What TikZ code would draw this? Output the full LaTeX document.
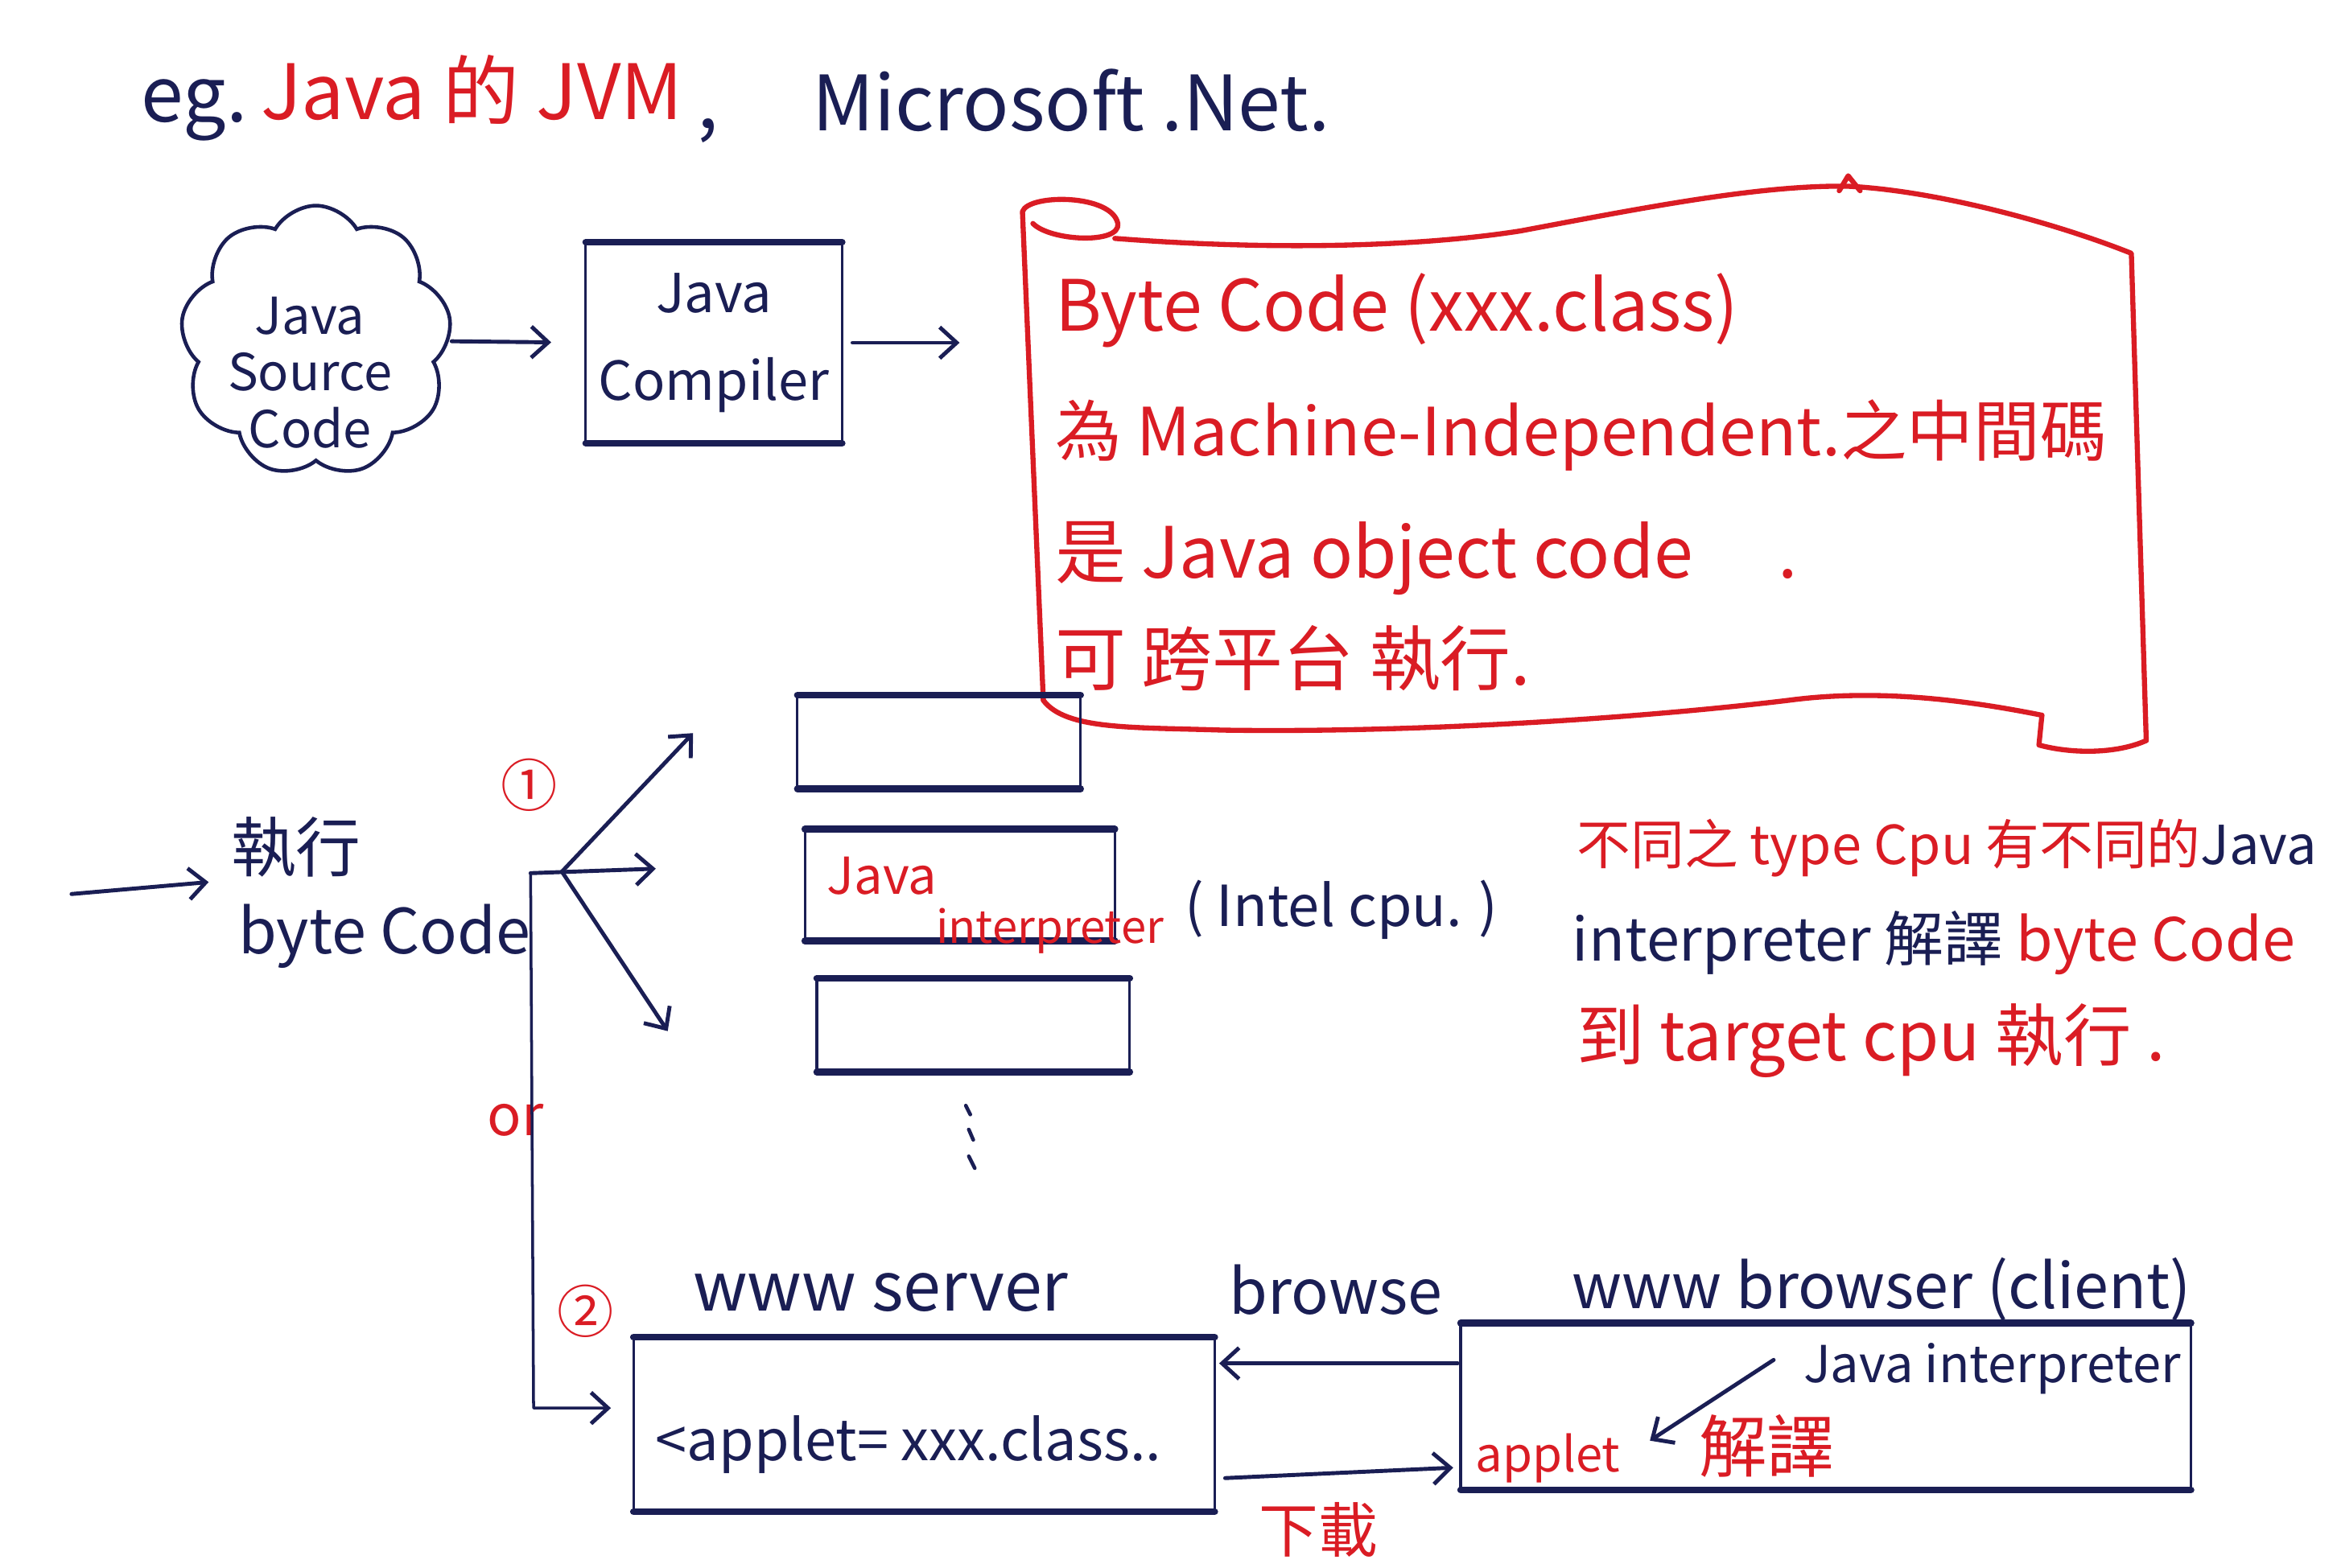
\documentclass[tikz,border=0pt]{standalone}
\usepackage{fontspec}
\setmainfont{Noto Sans CJK TC}
\usetikzlibrary{arrows.meta,shapes.symbols,calc}
\definecolor{inkred}{RGB}{218,28,36}
\definecolor{inknavy}{RGB}{26,30,84}
\def\U{0.01852cm}
\newcommand\fsz[1]{\fontsize{#1}{#1}\selectfont}
\begin{document}
\begin{tikzpicture}[x=\U,y=-\U,
  every node/.style={inner sep=0pt,outer sep=0pt},
  nv/.style={text=inknavy},
  rd/.style={text=inkred},
  thinbox/.style={draw=inknavy,line width=0.9pt},
  edgeline/.style={draw=inknavy,line width=2.4pt,line cap=round},
  ink/.style={draw=inknavy,line width=1.3pt,line cap=round,line join=round},
  redink/.style={draw=inkred,line width=1.8pt,line cap=round,line join=round},
  arr/.style={draw=inknavy,line width=1.4pt,line cap=round,-{Straight Barb[length=6pt,width=11pt,line width=1.4pt]}},
  ftitle/.style={font=\fontsize{27}{30}\selectfont},
  fbanner/.style={font=\fontsize{25}{28}\selectfont},
  flabel/.style={font=\fontsize{22}{24}\selectfont},
]
\fill[white] (0,0) rectangle (1568,1052);
\useasboundingbox (0,0) rectangle (1568,1052);

% header
\node[nv,ftitle,anchor=base west] (eg) at (95,82) {eg.};
\node[rd,ftitle,anchor=base west] (jvm) at (175,80) {Java 的 JVM};
\node[nv,ftitle,anchor=base west] (cm) at (468,86) {,};
\node[nv,ftitle,anchor=base west] (ms) at (545,88) {Microsoft .Net.};

% source cloud and compiler
\node[cloud,cloud puffs=9,cloud puff arc=120,aspect=1,draw=inknavy,line width=1.3pt,
      minimum width=182*\U,minimum height=182*\U] (cloud) at (212,229) {};
\node[nv,font=\fontsize{18}{20}\selectfont,align=center] (src) at (208,250) {Java\\Source\\Code};
\node[thinbox,minimum width=172*\U,minimum height=135*\U,nv,align=center,
      font=\fontsize{19}{31}\selectfont] (comp) at (479,230) {Java\\Compiler};
\draw[edgeline] (comp.north west) -- (comp.north east);
\draw[edgeline] (comp.south west) -- (comp.south east);

% banner
\node[minimum width=750*\U,minimum height=340*\U] (banner) at (1062,317) {};
\draw[redink] (700,470) -- (686,142)
   .. controls (690,130) and (746,130) .. (750,150)
   .. controls (752,164) and (705,162) .. (693,150);
\draw[redink] (748,160) .. controls (850,168) and (950,166) .. (1020,155)
   .. controls (1100,140) and (1180,124) .. (1240,125)
   .. controls (1300,128) and (1380,150) .. (1430,170) -- (1440,497);
\draw[redink] (1234,128) -- (1240,118) -- (1248,128);
\draw[redink] (700,470) .. controls (715,490) and (760,488) .. (820,490)
   .. controls (950,492) and (1100,482) .. (1200,470)
   .. controls (1260,462) and (1320,470) .. (1370,480);
\draw[redink] (1370,480) -- (1368,500) .. controls (1390,506) and (1420,506) .. (1440,497);
\node[rd,fbanner,anchor=base west] (b1) at (708,222) {Byte Code (xxx.class)};
\node[rd,font=\fontsize{23.5}{28}\selectfont,anchor=base west] (b2) at (708,306) {為 Machine-Independent.之中間碼};
\node[rd,fbanner,anchor=base west] (b3) at (708,388) {是 Java object code\hspace{1.2em}.};
\node[rd,fbanner,anchor=base west] (b4) at (708,460) {可 跨平台 執行.};

\draw[arr,shorten <=0.05cm,shorten >=0.43cm] (cloud.east) -- (comp.west);
\draw[arr,shorten <=0.13cm,shorten >=0.8cm] (comp.east) -- (comp.east -| banner.west);

% stacked interpreter boxes
\node[thinbox,minimum width=190*\U,minimum height=63*\U] (box1) at (630,498) {};
\node[thinbox,minimum width=208*\U,minimum height=75*\U] (box2) at (644,594) {};
\node[thinbox,minimum width=210*\U,minimum height=63*\U] (box3) at (653,688) {};
\foreach \b in {box1,box2,box3}{
  \draw[edgeline] (\b.north west) -- (\b.north east);
  \draw[edgeline] (\b.south west) -- (\b.south east);
}
\node[rd,font=\fsz{18},anchor=base west] (ji1) at (555,600) {Java};
\node[rd,font=\fsz{16},anchor=base west] (ji2) at (628,633) {interpreter};
\node[nv,font=\fsz{20},anchor=base west] (intel) at (795,622) {( Intel cpu. )};
\draw[ink] (648,742) -- (651,748) (650,758) -- (653,765) (650,776) -- (654,784);

% right explanation
\node[anchor=base west,font=\fsz{19}] (r1) at (1058,580)
  {\textcolor{inkred}{不同之 type Cpu 有不同的}\textcolor{inknavy}{Java}};
\node[anchor=base west,font=\fsz{21}] (r2) at (1055,645)
  {\textcolor{inknavy}{interpreter 解譯} \textcolor{inkred}{byte Code}};
\node[rd,anchor=base west,font=\fsz{24}] (r3) at (1058,712) {到 target cpu 執行 .};

% execute byte code
\coordinate (inS) at (48,600);
\coordinate (inE) at (140,592);
\draw[arr] (inS) -- (inE);
\node[nv,font=\fsz{23},anchor=base west] (ex1) at (155,585) {執行};
\node[nv,font=\fsz{22},anchor=base west] (ex2) at (160,640) {byte Code};
\node[rd,font=\fsz{20}] (n1) at (355,527) {①};
\coordinate (br) at (377,585);
\coordinate (vtop) at (356,586);
\coordinate (vbot) at (358,945);
\coordinate (t1) at (465,492);
\coordinate (t2) at (440,583);
\coordinate (t3) at (448,692);
\draw[arr] (br) -- (t1);
\draw[arr] (vtop) -- (t2);
\draw[arr] (br) -- (t3);
\node[rd,font=\fsz{20}] (or) at (346,752) {or};
\node[rd,font=\fsz{20}] (n2) at (393,880) {②};

% web
\node[thinbox,minimum width=390*\U,minimum height=117*\U] (server) at (620,956) {};
\node[thinbox,minimum width=490*\U,minimum height=112*\U] (browser) at (1225,944) {};
\foreach \b in {server,browser}{
  \draw[edgeline] (\b.north west) -- (\b.north east);
  \draw[edgeline] (\b.south west) -- (\b.south east);
}
\draw[ink,line width=1pt,shorten >=0.28cm,-{Straight Barb[length=6pt,width=11pt,line width=1.4pt]}]
  (vtop) -- (vbot) -- (vbot -| server.west);
\node[nv,font=\fsz{24},anchor=base west] (wsl) at (465,880) {www server};
\node[nv,flabel,anchor=base west] (brw) at (825,882) {browse};
\node[nv,flabel,anchor=base west] (bcl) at (1055,878) {www browser (client)};
\node[nv,font=\fsz{20},anchor=base west] (app) at (440,980) {<applet= xxx.class..};
\node[nv,font=\fsz{18},anchor=base west] (jint) at (1210,928) {Java interpreter};
\node[rd,font=\fsz{17},anchor=base west] (applet) at (990,988) {applet};
\node[rd,font=\fsz{24},anchor=base west] (jy) at (1140,988) {解譯};
\node[rd,font=\fsz{21},anchor=base west] (dl) at (845,1042) {下載};

\draw[arr] ($(browser.west)+(-2,-29)$) -- ($(server.east)+(3,-41)$);
\draw[arr] ($(server.east)+(7,36)$) -- ($(browser.west)+(-5,41)$);
\draw[arr] ($(jint.west)+(-20,-6)$) -- ($(applet.east)+(20,-12)$);
\end{tikzpicture}
\end{document}
